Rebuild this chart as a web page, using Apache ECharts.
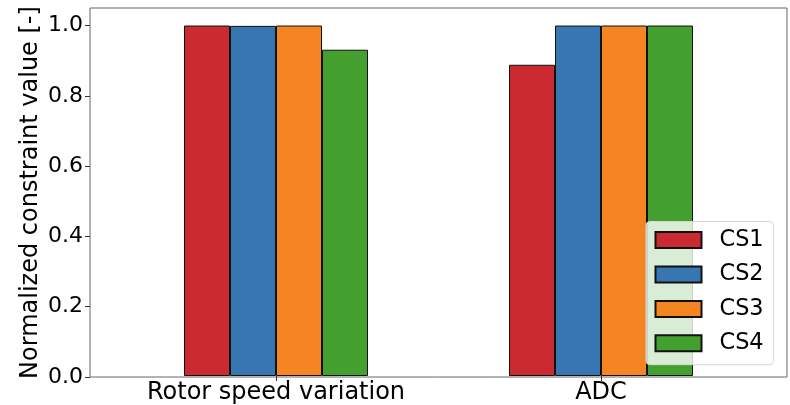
<!DOCTYPE html>
<html>
<head>
<meta charset="utf-8">
<script src="https://cdn.jsdelivr.net/npm/echarts@6/dist/echarts.min.js"></script>
<style>
  html, body { margin: 0; padding: 0; background: #fff; }
  #chart { width: 790px; height: 405px; }
</style>
</head>
<body>
<div id="chart"></div>
<script>
// Constraint groups on the x axis
const categories = ['Rotor speed variation', 'ADC'];
// Normalized constraint values per case study
const cs1 = [1.0, 0.888];
const cs2 = [0.999, 1.0];
const cs3 = [1.0, 1.0];
const cs4 = [0.931, 1.0];
const seriesNames = ['CS1', 'CS2', 'CS3', 'CS4'];
const yTicks = [0, 0.2, 0.4, 0.6, 0.8, 1.0];

const colors = ['#cb2a31', '#3776b0', '#f58422', '#439f2e'];
const FONT = 'DejaVu Sans';
const Y_MAX = 1.05;

const chart = echarts.init(document.getElementById('chart'), null, { renderer: 'canvas' });

const values = [cs1, cs2, cs3, cs4];
const series = seriesNames.map((name, i) => ({
  name,
  type: 'bar',
  xAxisIndex: 1,
  yAxisIndex: 1,
  data: values[i],
  barWidth: 46,
  barGap: '0%',
  itemStyle: { color: colors[i], borderColor: '#111', borderWidth: 1 },
  emphasis: { disabled: true }
}));

chart.setOption({
  animation: false,
  textStyle: { fontFamily: FONT },
  grid: [
    // frame and y axis
    { left: 90, right: 3, top: 8, bottom: 28, show: true, borderColor: '#666', borderWidth: 1, backgroundColor: 'transparent' },
    // bar area
    { left: 113.5, right: 26.5, top: 8, bottom: 28 }
  ],
  xAxis: [
    { type: 'value', gridIndex: 0, min: 0, max: 1, show: false },
    {
      type: 'category', gridIndex: 1, data: categories,
      axisLine: { show: false },
      axisTick: { show: true, alignWithLabel: true, length: 5, lineStyle: { color: '#333' } },
      axisLabel: { color: '#000', fontSize: 24, fontFamily: FONT, margin: 5, interval: 0, hideOverlap: false }
    }
  ],
  yAxis: [
    {
      type: 'value', gridIndex: 0, min: 0, max: Y_MAX, interval: 0.2,
      name: 'Normalized constraint value [-]',
      nameLocation: 'middle', nameGap: 47, nameMoveOverlap: false,
      nameTextStyle: { color: '#000', fontSize: 24, fontFamily: FONT },
      axisLine: { show: false },
      splitLine: { show: false },
      axisTick: { show: true, length: 5, lineStyle: { color: '#333' }, customValues: yTicks },
      axisLabel: { color: '#000', fontSize: 22, fontFamily: FONT, margin: 7,
        customValues: yTicks, formatter: v => v.toFixed(1) }
    },
    { type: 'value', gridIndex: 1, min: 0, max: Y_MAX, show: false }
  ],
  legend: {
    orient: 'vertical',
    left: 646, top: 221.5,
    data: seriesNames,
    icon: 'rect',
    itemWidth: 46, itemHeight: 16, itemGap: 12.4,
    padding: [7.6, 10, 10.4, 8.5],
    backgroundColor: 'rgba(255,255,255,0.8)',
    borderColor: '#d6d6d6', borderWidth: 1, borderRadius: 4,
    textStyle: { color: '#000', fontSize: 22.4, fontFamily: FONT, padding: [0, 0, 0, 13] },
    selectedMode: false
  },
  series
});
</script>
</body>
</html>
